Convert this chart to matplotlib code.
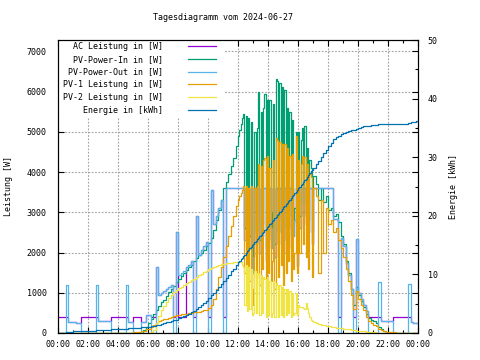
import numpy as np
import matplotlib
matplotlib.use("Agg")
import matplotlib.pyplot as plt
from matplotlib.patches import Rectangle

# Messzeitpunkte in Minuten seit 00:00
# bis 11:50 alle 10 min, 12:00 - 17:00 alle 5 min, danach wieder alle 10 min
zeit_min = np.concatenate([np.arange(0, 720, 10),
                           np.arange(720, 1021, 5),
                           np.arange(1030, 1441, 10)])
zeit = zeit_min / 60.0

# AC Leistung in [W]
ac_leistung = [
    # 00:00 - 11:50
    400, 400, 400, 400, 275, 275,
    275, 250, 250, 400, 400, 400,
    400, 400, 400, 400, 290, 290,
    290, 290, 290, 400, 400, 400,
    400, 400, 400, 400, 275, 275,
    400, 400, 400, 275, 275, 450,
    450, 400, 400, 1650, 950, 1000,
    1050, 1100, 1150, 1200, 400, 2500,
    400, 400, 400, 1650, 1700, 1800,
    400, 2900, 1950, 2050, 2150, 2250,
    400, 3550, 2700, 2900, 3100, 3300,
    400, 3600, 3600, 3600, 3600, 3600,
    # 12:00 - 17:00
    3600, 3600, 3600, 3600, 3600, 2300, 3600, 1700, 3600, 2100,
    3600, 1500, 1900, 3600, 2200, 3600, 3600, 2000, 3600, 2400,
    3600, 3600, 1800, 3600, 2300, 3600, 2100, 2600, 3600, 1900,
    3600, 3600, 2200, 3600, 2500, 3600, 2000, 3600, 2300, 3600,
    2600, 3600, 2100, 3600, 2400, 2800, 3600, 1670, 3600, 2600,
    3600, 3600, 2900, 3600, 2700, 3600, 2500, 3600, 3600, 2200,
    3600,
    # 17:10 - 24:00
    3600, 3600, 3600, 3600, 3600,
    3600, 3600, 2830, 2830, 400, 2350,
    2150, 1750, 1450, 1100, 400, 2330,
    1000, 850, 700, 550, 400, 400,
    400, 400, 400, 290, 290, 290,
    290, 290, 400, 400, 400, 400,
    400, 400, 400, 270, 260, 260,
    250,
]

# PV-Power-In in [W]
pv_power_in = [
    0, 0, 0, 0, 0, 0,
    0, 0, 0, 0, 0, 0,
    0, 0, 0, 0, 0, 0,
    0, 0, 0, 0, 0, 0,
    0, 0, 0, 0, 0, 0,
    0, 0, 0, 0, 80, 150,
    250, 350, 470, 580, 680, 760,
    830, 920, 1010, 1100, 1180, 1260,
    1340, 1420, 1490, 1560, 1630, 1700,
    1800, 1870, 1940, 2000, 2070, 2150,
    2230, 2350, 2550, 2800, 3050, 3300,
    3600, 3750, 3950, 4150, 4350, 4650,
    4900, 5050, 5200, 5350, 5450, 2600, 5400, 2000, 5350, 2400,
    5250, 1800, 2200, 5000, 2500, 5100, 6000, 2300, 5500, 2700,
    5600, 5950, 2100, 5800, 2600, 5800, 2400, 3000, 5700, 2200,
    6300, 6250, 2500, 6200, 2800, 6100, 2300, 6050, 2600, 5600,
    2900, 5500, 2400, 5300, 2700, 3100, 5000, 2600, 5000, 2900,
    4800, 5100, 3200, 5150, 3000, 4600, 2800, 4300, 4100, 2500,
    3900,
    3700, 3300, 3600, 3250, 3400,
    3050, 3100, 2900, 2950, 2750, 2400,
    2200, 1800, 1500, 1100, 700, 1150,
    950, 800, 650, 480, 380, 330,
    290, 260, 160, 90, 40, 0,
    0, 0, 0, 0, 0, 0,
    0, 0, 0, 0, 0, 0,
    0,
]

# PV-Power-Out in [W]
pv_power_out = [
    0, 0, 0, 1200, 275, 275,
    275, 250, 250, 0, 0, 0,
    0, 0, 0, 1200, 290, 290,
    290, 290, 290, 0, 0, 0,
    0, 0, 0, 1200, 275, 275,
    0, 0, 0, 275, 275, 450,
    450, 0, 0, 1650, 950, 1000,
    1050, 1100, 1150, 1200, 0, 2500,
    1450, 1500, 1550, 1650, 1700, 1800,
    0, 2900, 1950, 2050, 2150, 2250,
    0, 3550, 2700, 2900, 3100, 3300,
    0, 3600, 3600, 3600, 3600, 3600,
    3600, 3600, 3600, 3600, 3600, 2300, 3600, 1700, 3600, 2100,
    3600, 1500, 1900, 3600, 2200, 3600, 3600, 2000, 3600, 2400,
    3600, 3600, 1800, 3600, 2300, 3600, 2100, 2600, 3600, 1900,
    3600, 3600, 2200, 3600, 2500, 3600, 2000, 3600, 2300, 3600,
    2600, 3600, 2100, 3600, 2400, 2800, 3600, 1670, 3600, 2600,
    3600, 3600, 2900, 3600, 2700, 3600, 2500, 3600, 3600, 2200,
    3600,
    3600, 3600, 3600, 3600, 3600,
    3600, 3600, 2830, 2830, 0, 2350,
    2150, 1750, 1450, 1100, 0, 2330,
    1000, 850, 700, 550, 0, 0,
    0, 0, 1270, 290, 290, 290,
    290, 290, 0, 0, 0, 0,
    0, 0, 1210, 270, 260, 260,
    250,
]

# PV-1 Leistung in [W]
pv1_leistung = [
    0, 0, 0, 0, 0, 0,
    0, 0, 0, 0, 0, 0,
    0, 0, 0, 0, 0, 0,
    0, 0, 0, 0, 0, 0,
    0, 0, 0, 0, 0, 0,
    20, 30, 30, 40, 60, 90,
    110, 150, 200, 250, 290, 320,
    340, 360, 380, 400, 420, 440,
    450, 460, 470, 480, 490, 500,
    510, 520, 530, 545, 560, 580,
    620, 700, 850, 1100, 1400, 1650,
    1900, 2150, 2400, 2650, 2900, 3150,
    3300, 3400, 3470, 3550, 3650, 1500, 3650, 900, 3600, 1300,
    3650, 700, 1100, 3600, 1400, 3650, 4200, 1200, 4150, 1600,
    4300, 4350, 1000, 4400, 1500, 4100, 1300, 1800, 4300, 1100,
    4850, 4800, 1400, 4750, 1700, 4700, 1200, 4700, 1500, 4600,
    1800, 4400, 1300, 4450, 1600, 2000, 4900, 1500, 4300, 2000,
    4200, 4400, 2200, 4380, 1900, 4200, 1600, 3950, 3880, 1400,
    3600,
    3400, 1500, 3300, 2000, 3100,
    2700, 2800, 2500, 2600, 2300, 2100,
    1900, 1600, 1300, 950, 600, 1050,
    850, 700, 560, 400, 300, 250,
    210, 180, 110, 70, 40, 30,
    30, 20, 20, 10, 0, 0,
    0, 0, 0, 0, 0, 0,
    0,
]

# PV-2 Leistung in [W]
pv2_leistung = [
    0, 0, 0, 0, 0, 0,
    0, 0, 0, 0, 0, 0,
    0, 0, 0, 0, 0, 0,
    0, 0, 0, 0, 0, 0,
    0, 0, 0, 0, 0, 0,
    0, 0, 0, 0, 0, 0,
    0, 20, 80, 250, 420, 560,
    680, 780, 870, 950, 1010, 1060,
    1110, 1150, 1190, 1230, 1270, 1310,
    1350, 1390, 1430, 1470, 1510, 1550,
    1580, 1610, 1640, 1670, 1700, 1710,
    1720, 1730, 1740, 1750, 1760, 1770,
    1770, 1770, 1760, 1700, 1650, 700, 1700, 550, 1650, 600,
    1600, 450, 500, 1550, 500, 1500, 1500, 450, 1450, 500,
    1400, 1350, 400, 1400, 450, 1300, 400, 500, 1300, 400,
    1250, 1200, 400, 1200, 450, 1150, 400, 1100, 450, 1100,
    500, 1050, 400, 1000, 450, 500, 1000, 450, 700, 650,
    650, 650, 620, 600, 750, 620, 500, 400, 330, 300,
    280,
    250, 220, 200, 190, 180,
    170, 160, 150, 130, 120, 115,
    110, 100, 90, 80, 70, 60,
    55, 50, 40, 35, 30, 20,
    15, 10, 0, 0, 0, 0,
    0, 0, 0, 0, 0, 0,
    0, 0, 0, 0, 0, 0,
    0,
]

# Energie in [kWh]
energie = [
    0.05, 0.05, 0.05, 0.1, 0.17, 0.17,
    0.3, 0.4, 0.4, 0.4, 0.4, 0.4,
    0.4, 0.4, 0.4, 0.45, 0.5, 0.5,
    0.5, 0.5, 0.55, 0.68, 0.68, 0.68,
    0.68, 0.68, 0.68, 0.75, 0.85, 0.85,
    0.85, 0.85, 0.85, 0.95, 1.0, 1.05,
    1.1, 1.2, 1.25, 1.35, 1.45, 1.55,
    1.7, 1.8, 1.9, 2.0, 2.15, 2.3,
    2.5, 2.7, 2.9, 3.1, 3.3, 3.5,
    3.8, 4.1, 4.45, 4.8, 5.15, 5.5,
    5.9, 6.4, 6.9, 7.4, 7.9, 8.4,
    8.9, 9.4, 9.95, 10.5, 11.0, 11.55,
    12.1, 12.36, 12.62, 12.87, 13.13, 13.39, 13.65, 13.91, 14.16, 14.42,
    14.68, 14.94, 15.2, 15.45, 15.71, 15.97, 16.23, 16.49, 16.74, 17.0,
    17.26, 17.52, 17.78, 18.03, 18.29, 18.55, 18.81, 19.07, 19.32, 19.58,
    19.84, 20.1, 20.36, 20.61, 20.88, 21.15, 21.43, 21.7, 21.97, 22.24,
    22.51, 22.78, 23.06, 23.33, 23.6, 23.87, 24.14, 24.42, 24.69, 24.96,
    25.23, 25.5, 25.77, 26.04, 26.35, 26.66, 26.97, 27.28, 27.59, 27.9,
    28.2,
    28.8, 29.4, 30.1, 30.7, 31.3,
    31.9, 32.5, 33.1, 33.5, 33.7, 34.0,
    34.2, 34.35, 34.5, 34.6, 34.7, 34.85,
    35.0, 35.15, 35.25, 35.35, 35.4, 35.45,
    35.5, 35.5, 35.6, 35.65, 35.65, 35.7,
    35.7, 35.75, 35.75, 35.75, 35.75, 35.75,
    35.75, 35.75, 35.9, 36.05, 36.05, 36.1,
    36.1,
]

x_ticks = list(range(0, 25, 2))
x_labels = ['00:00', '02:00', '04:00', '06:00', '08:00', '10:00', '12:00',
            '14:00', '16:00', '18:00', '20:00', '22:00', '00:00']

plt.rcParams['font.family'] = 'DejaVu Sans Mono'
plt.rcParams['font.size'] = 6

fig = plt.figure(figsize=(4.8, 3.6), dpi=100)
ax = fig.add_axes([58 / 480, 27 / 360, 360 / 480, 293 / 360])
ax2 = ax.twinx()

kw = dict(drawstyle='steps-post', lw=0.9)
l1, = ax.plot(zeit, ac_leistung, color='#9400d3', label='AC Leistung in [W]', **kw)
l2, = ax.plot(zeit, pv_power_in, color='#009e73', label='PV-Power-In in [W]', **kw)
l3, = ax.plot(zeit, pv_power_out, color='#56b4e9', label='PV-Power-Out in [W]', **kw)
l4, = ax.plot(zeit, pv1_leistung, color='#e69f00', label='PV-1 Leistung in [W]', **kw)
l5, = ax.plot(zeit, pv2_leistung, color='#f0e442', label='PV-2 Leistung in [W]', **kw)
l6, = ax2.plot(zeit, energie, color='#0072b2', label='Energie in [kWh]', **kw)

ax.set_xlim(0, 24)
ax.set_ylim(0, 7280)
ax2.set_ylim(0, 50)

ax.set_xticks(x_ticks)
ax.set_xticklabels(x_labels)
ax.set_xticks(range(0, 25), minor=True)
ax.set_yticks(range(0, 7001, 1000))
ax2.set_yticks(range(0, 51, 10))
ax2.set_yticks(range(0, 51, 5), minor=True)

ax.tick_params(axis='both', which='both', direction='in', top=True, right=True,
               labelright=False, width=0.8)
ax.tick_params(which='major', length=4)
ax.tick_params(which='minor', length=2.5)
ax.tick_params(axis='y', pad=8)
ax.tick_params(axis='x', pad=5)
ax2.tick_params(axis='y', which='both', direction='in', pad=7, width=0.8)
ax2.tick_params(which='major', length=4)
ax2.tick_params(which='minor', length=2.5)

for a in (ax, ax2):
    for s in a.spines.values():
        s.set_linewidth(0.8)

ax.set_axisbelow(True)
ax.grid(True, which='major', color='#a0a0a0', linestyle=(0, (1.5, 1.5)), linewidth=0.8)

# weisser Hintergrund hinter der Legende
ax.add_patch(Rectangle((0, (333 - 118) / 293), (225 - 58) / 360, (118 - 40) / 293,
                       transform=ax.transAxes, facecolor='white', edgecolor='none',
                       zorder=1.5))

ax.set_ylabel('Leistung [W]')
ax.yaxis.set_label_coords(-0.125, 0.5)
ax2.set_ylabel('Energie [kWh]')
ax2.yaxis.set_label_coords(1.086, 0.5)

fig.text(223 / 480, 1 - 18 / 360, 'Tagesdiagramm vom 2024-06-27', ha='center', va='center')

ax2.legend([l1, l2, l3, l4, l5, l6], [l.get_label() for l in (l1, l2, l3, l4, l5, l6)],
           loc='upper left', bbox_to_anchor=(5 / 360, 1 - 2 / 293), markerfirst=False,
           frameon=False, handlelength=3.4, handletextpad=3.0, labelspacing=0.45,
           borderpad=0, borderaxespad=0)

fig.savefig('out.png', dpi=100)
